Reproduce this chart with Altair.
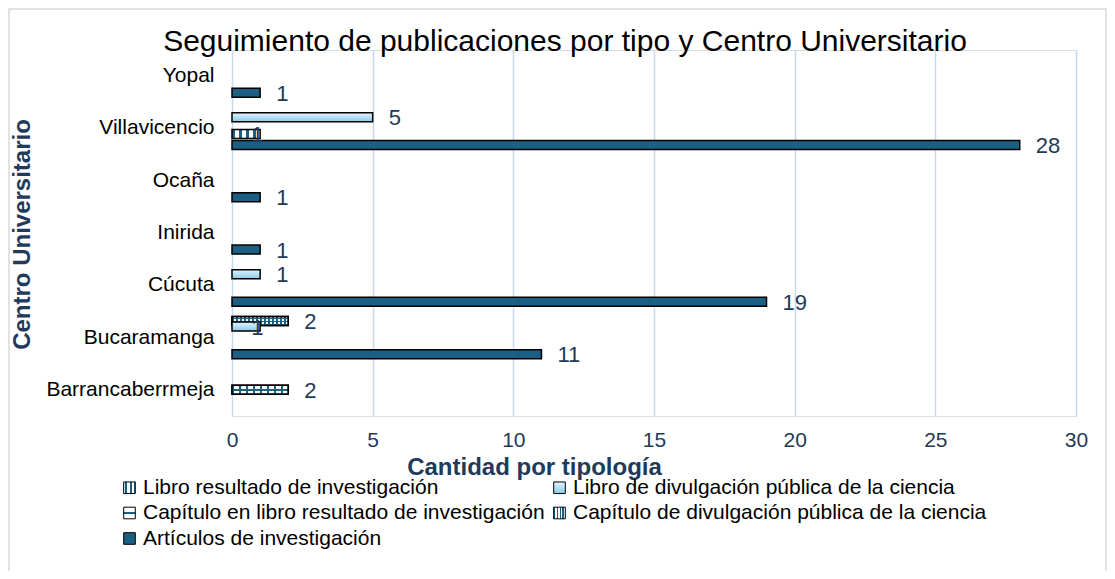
import json
import altair as alt
import pandas as pd

# ---------------- data ----------------
centros = ["Barrancaberrmeja", "Bucaramanga", "Cúcuta", "Inirida", "Ocaña", "Villavicencio", "Yopal"]
series = [
    "Libro resultado de investigación",
    "Libro de divulgación pública de la ciencia",
    "Capítulo en libro resultado de investigación",
    "Capítulo de divulgación pública de la ciencia",
    "Artículos de investigación",
]
libro_resultado = [0, 2, 0, 0, 0, 0, 0]
libro_divulgacion = [0, 1, 1, 0, 0, 5, 0]
capitulo_libro = [2, 0, 0, 0, 0, 0, 0]
capitulo_divulgacion = [0, 0, 0, 0, 0, 1, 0]
articulos = [0, 11, 19, 1, 1, 28, 1]
x_ticks = [0, 5, 10, 15, 20, 25, 30]

values_by_series = [libro_resultado, libro_divulgacion, capitulo_libro, capitulo_divulgacion, articulos]
rows = []
for s, vals in zip(series, values_by_series):
    for c, v in zip(centros, vals):
        rows.append({"centro": c, "serie": s, "valor": v})
df = pd.DataFrame(rows)

# ---------------- styles ----------------
FONT = "Liberation Sans"
DARK = "#1B5F83"
NAVY = "#1F3A5A"
GRID = "#C7D9EE"
CLEAR = "rgba(255,255,255,0)"

W, H = 844, 366
PAD_L, PAD_T, PAD_R, PAD_B = 224, 42, 31, 155


def stripes(direction, periods, dark_frac, dark, light):
    stops = []
    for k in range(periods):
        a = k / periods
        b = (k + dark_frac) / periods
        e = (k + 1) / periods
        stops += [
            {"offset": round(a, 4), "color": dark},
            {"offset": round(b, 4), "color": dark},
            {"offset": round(b, 4), "color": light},
            {"offset": round(e, 4), "color": light},
        ]
    g = {"gradient": "linear", "x1": 0, "y1": 0, "x2": 0, "y2": 0, "stops": stops}
    if direction == "x":
        g["x2"] = 1
    else:
        g["y2"] = 1
    return g


grad_checker = stripes("x", 14, 0.5, DARK, "#ffffff")
grad_checker_over = stripes("y", 3, 0.5, CLEAR, DARK)
grad_libro_div = {
    "gradient": "linear", "x1": 0, "y1": 0, "x2": 0, "y2": 1,
    "stops": [
        {"offset": 0, "color": "#E2F3FC"},
        {"offset": 0.5, "color": "#B7DFF4"},
        {"offset": 1, "color": "#8CC9EA"},
    ],
}
grad_cap_libro = {
    "gradient": "linear", "x1": 0, "y1": 0, "x2": 0, "y2": 1,
    "stops": [
        {"offset": 0, "color": "#ffffff"},
        {"offset": 0.42, "color": "#ffffff"},
        {"offset": 0.42, "color": DARK},
        {"offset": 0.6, "color": DARK},
        {"offset": 0.6, "color": "#ffffff"},
        {"offset": 1, "color": "#ffffff"},
    ],
}
grad_cap_libro_over = stripes("x", 8, 0.22, DARK, CLEAR)
grad_cap_div = stripes("x", 4, 0.4, DARK, "#ffffff")

fill_range = [
    {"expr": json.dumps(grad_checker)},
    {"expr": json.dumps(grad_libro_div)},
    {"expr": json.dumps(grad_cap_libro)},
    {"expr": json.dumps(grad_cap_div)},
    DARK,
]

slots = [series[0], series[1], "_gap1", series[2], series[3], "_gap2", series[4]]

base = alt.Chart(df).transform_filter("datum.valor > 0")

X = alt.X(
    "valor:Q",
    scale=alt.Scale(domain=[0, 30]),
    axis=alt.Axis(
        values=x_ticks, title="Cantidad por tipología", grid=True, gridColor=GRID,
        gridWidth=1.5, domain=False, ticks=False, labelFontSize=21, labelColor=NAVY,
        labelPadding=13, labelFlush=False, titleFontSize=24, titleFontWeight="bold",
        titleColor=NAVY, titleX=302, titleY=58, titleBaseline="alphabetic",
        labelFont=FONT, titleFont=FONT,
    ),
)
Y = alt.Y(
    "centro:N",
    sort=centros[::-1],
    scale=alt.Scale(paddingInner=0.26, paddingOuter=0.13),
    axis=alt.Axis(
        title="Centro Universitario", ticks=False, domain=False, labelFontSize=21,
        labelColor="black", labelPadding=18, titleFontSize=24, titleFontWeight="bold",
        titleColor=NAVY, titleX=-210, titleY=184, titleBaseline="middle",
        labelFont=FONT, titleFont=FONT,
    ),
)
YO = alt.YOffset("serie:N", scale=alt.Scale(domain=slots, paddingInner=0, paddingOuter=0))
FILL = alt.Fill(
    "serie:N",
    scale=alt.Scale(domain=series, range=fill_range),
    legend=alt.Legend(
        title=None, orient="none", legendX=-113, legendY=427, columns=2,
        direction="horizontal",
        symbolType="square", symbolSize=135, symbolStrokeColor="black",
        symbolStrokeWidth=1, labelFontSize=21, labelColor="black", labelFont=FONT,
        columnPadding=4, rowPadding=3.5, labelOffset=3, padding=0, labelLimit=500,
    ),
)

layers = []
for i, s in enumerate(series):
    layers.append(
        base.transform_filter(alt.datum.serie == s)
        .mark_bar(height=9, stroke="black", strokeWidth=1.5)
        .encode(x=X, y=Y, yOffset=YO, fill=FILL)
    )
    over = {0: grad_checker_over, 2: grad_cap_libro_over}.get(i)
    if over is not None:
        layers.append(
            base.transform_filter(alt.datum.serie == s)
            .mark_bar(height=9, stroke="black", strokeWidth=1.5, fill=over)
            .encode(x=X, y=Y, yOffset=YO)
        )

inside = (
    "(datum.centro == 'Villavicencio' && datum.serie == '" + series[3] + "') || "
    "(datum.centro == 'Bucaramanga' && datum.serie == '" + series[1] + "')"
)
labels_out = base.transform_filter("!(" + inside + ")").mark_text(
    align="left", baseline="middle", dx=16, dy=1, fontSize=22, color=NAVY, font=FONT
).encode(x=X, y=Y, yOffset=YO, text="valor:Q")
labels_in = base.transform_filter(inside).mark_text(
    align="left", baseline="middle", dx=-9, dy=1, fontSize=22, color=NAVY, font=FONT
).encode(x=X, y=Y, yOffset=YO, text="valor:Q")

border = alt.Chart(pd.DataFrame({"k": [0]})).mark_rect(
    fill="white", fillOpacity=0, stroke="#D9D9D9", strokeWidth=1.5
).encode(
    x=alt.value(-PAD_L + 1), x2=alt.value(W + PAD_R - 1),
    y=alt.value(-PAD_T + 1), y2=alt.value(H + PAD_B + 20),
)

chart = alt.layer(border, *layers, labels_out, labels_in).properties(
    width=W, height=H,
    padding={"left": PAD_L, "top": PAD_T, "right": PAD_R, "bottom": PAD_B},
    autosize=alt.AutoSizeParams(type="none"),
    title=alt.TitleParams(
        "Seguimiento de publicaciones por tipo y Centro Universitario",
        fontSize=30, fontWeight="normal", color="black", font=FONT,
        anchor="middle", dx=-89, dy=73, baseline="alphabetic", offset=0,
    ),
).configure_view(stroke=None).configure(font=FONT)

chart.save("out.html", embed_options={"renderer": "svg", "actions": False})
